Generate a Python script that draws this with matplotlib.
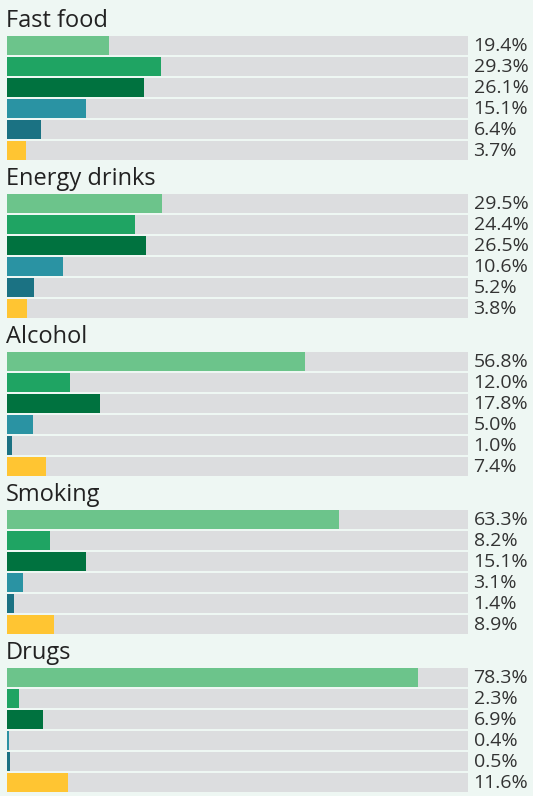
import matplotlib.pyplot as plt

# data
groups = ["Fast food", "Energy drinks", "Alcohol", "Smoking", "Drugs"]
fast_food = [19.4, 29.3, 26.1, 15.1, 6.4, 3.7]
energy_drinks = [29.5, 24.4, 26.5, 10.6, 5.2, 3.8]
alcohol = [56.8, 12.0, 17.8, 5.0, 1.0, 7.4]
smoking = [63.3, 8.2, 15.1, 3.1, 1.4, 8.9]
drugs = [78.3, 2.3, 6.9, 0.4, 0.5, 11.6]
all_values = [fast_food, energy_drinks, alcohol, smoking, drugs]

colors = ["#6cc48b", "#1fa463", "#00723f", "#2a93a3", "#1b7283", "#ffc532"]
TRACK = 87.8  # grey track ends here (axis scale runs to ~100 at right edge of figure)

plt.rcParams['font.family'] = ['Open Sans', 'DejaVu Sans']
W, H = 533, 796
fig = plt.figure(figsize=(W / 100, H / 100), dpi=100)
fig.patch.set_facecolor("#eef7f3")

for k, (name, vals) in enumerate(zip(groups, all_values)):
    off = 158 * k
    top, bot = 35 + off, 161 + off
    ax = fig.add_axes([7 / W, 1 - bot / H, 461 / W, (bot - top) / H])
    ys = range(len(vals))
    ax.barh(ys, [TRACK] * len(vals), height=0.9, color="#dcdddf")
    ax.barh(ys, vals, height=0.9, color=colors)
    ax.set_xlim(0, TRACK)
    ax.set_ylim(len(vals) - 0.5, -0.5)
    ax.axis("off")
    for i, v in enumerate(vals):
        ax.text(1.012, i + 0.04, f"{v:.1f}%", transform=ax.get_yaxis_transform(),
                va="center", ha="left", fontsize=14, color="#333333")
    fig.text(6 / W, 1 - (27 + off) / H, name, va="baseline", ha="left",
             fontsize=17, color="#222222")

fig.savefig("out.png", dpi=100, facecolor=fig.get_facecolor())
